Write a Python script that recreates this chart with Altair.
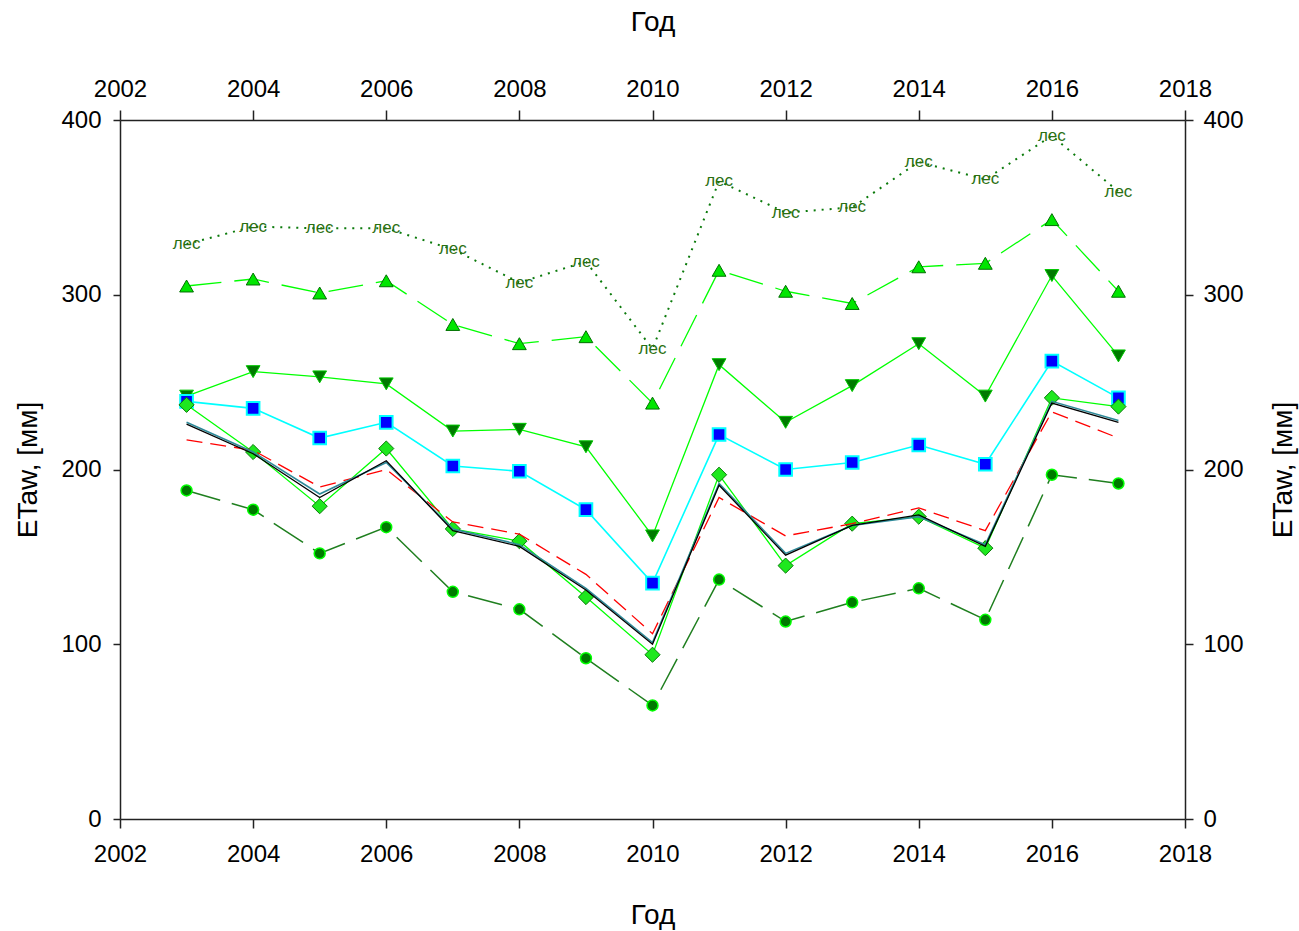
import altair as alt
import pandas as pd

# Years and seasonal ETaw values (mm) for each land-cover / method series
years = [2003, 2004, 2005, 2006, 2007, 2008, 2009, 2010, 2011, 2012, 2013, 2014, 2015, 2016, 2017]

forest = [329, 339, 338, 338, 326, 307, 319, 269, 365, 347, 350, 376, 366, 391, 359]
tri_up = [305, 309, 301, 308, 283, 272, 276, 238, 314, 302, 295, 316, 318, 343, 302]
tri_down = [242, 256, 253, 249, 222, 223, 213, 162, 260, 227, 248, 272, 242, 311, 265]
squares = [239, 235, 218, 227, 202, 199, 177, 135, 220, 200, 204, 214, 203, 262, 241]
diamonds = [237, 210, 179, 212, 166, 159, 127, 94, 197, 145, 169, 173, 155, 241, 236]
red_dash = [217, 211, 190, 200, 170, 163, 140, 106, 184, 162, 169, 178, 165, 233, 218]
teal_line = [227, 210, 186, 204, 166, 157, 132, 101, 192, 152, 168, 173, 157, 239, 228]
black_line = [226, 209, 184, 205, 165, 156, 131, 100, 191, 151, 168, 174, 156, 238, 227]
circles = [188, 177, 152, 167, 130, 120, 92, 65, 137, 113, 124, 132, 114, 197, 192]

forest_label = "лес"
x_title = "Год"
y_title = "ETaw, [мм]"

x_ticks = [2002, 2004, 2006, 2008, 2010, 2012, 2014, 2016, 2018]
y_ticks = [0, 100, 200, 300, 400]

W, H = 1065, 699
FONT = "Liberation Sans Narrow, Arial Narrow, Liberation Sans, Arial"

df = pd.DataFrame({
    "year": years,
    "forest": forest,
    "tri_up": tri_up,
    "tri_down": tri_down,
    "squares": squares,
    "diamonds": diamonds,
    "red_dash": red_dash,
    "teal_line": teal_line,
    "black_line": black_line,
    "circles": circles,
    "label": [forest_label] * len(years),
})

x_scale = alt.Scale(domain=[2002, 2018], nice=False, zero=False)
y_scale = alt.Scale(domain=[0, 400], nice=False, zero=True)

axis_common = dict(
    format="d",
    grid=False,
    labelFont=FONT,
    labelFontSize=24,
    labelColor="black",
    titleFont=FONT,
    titleFontSize=28,
    titleFontWeight="normal",
    titleColor="black",
    domainColor="#222222",
    domainWidth=1.5,
    tickColor="#222222",
    tickWidth=1.5,
    labelFlush=False,
    labelOverlap=False,
    titleAlign="center",
    titleBaseline="middle",
)

x_bottom = alt.Axis(orient="bottom", values=x_ticks, title=x_title, tickSize=9,
                    labelPadding=14, titleX=W / 2, titleY=96, **axis_common)
y_left = alt.Axis(orient="left", values=y_ticks, title=y_title, tickSize=7,
                  labelPadding=12, titleAngle=270, titleX=-92, titleY=H / 2, **axis_common)
x_top = alt.Axis(orient="top", values=x_ticks, title=x_title, tickSize=10,
                 labelPadding=9, titleX=W / 2, titleY=-98, **axis_common)
y_right = alt.Axis(orient="right", values=y_ticks, title=y_title, tickSize=8,
                   labelPadding=10, titleAngle=270, titleX=98, titleY=H / 2, **axis_common)

base = alt.Chart(df)


def xy(field):
    return dict(
        x=alt.X("year:Q", scale=x_scale, axis=None),
        y=alt.Y(f"{field}:Q", scale=y_scale, axis=None),
    )


def line(field, color, width=1.3, dash=None):
    kw = dict(color=color, strokeWidth=width, clip=False)
    if dash is not None:
        kw["strokeDash"] = dash
    return base.mark_line(**kw).encode(**xy(field))


def points(field, shape, fill, stroke, size, sw=1.0):
    return base.mark_point(shape=shape, fill=fill, stroke=stroke, fillOpacity=1,
                           strokeOpacity=1, size=size, strokeWidth=sw,
                           opacity=1).encode(**xy(field))


# Invisible layers that carry the four axes (bottom/left and mirrored top/right)
axes_bl = base.mark_line(opacity=0).encode(
    x=alt.X("year:Q", scale=x_scale, axis=x_bottom),
    y=alt.Y("black_line:Q", scale=y_scale, axis=y_left),
)
axes_tr = base.mark_line(opacity=0).encode(
    x=alt.X("year:Q", scale=x_scale, axis=x_top),
    y=alt.Y("black_line:Q", scale=y_scale, axis=y_right),
)

forest_text = base.mark_text(font="Liberation Sans, Arial", fontSize=17, color="#2B7012",
                             align="center", baseline="middle").encode(
    text="label:N", **xy("forest"))

layers = [
    axes_bl, axes_tr,
    line("forest", "#0B7A0B", width=2, dash=[2, 6]),
    forest_text,
    line("tri_up", "#00FF00", dash=[35, 13]),
    points("tri_up", "triangle-up", "#00E600", "#007000", 190),
    line("tri_down", "#00FF00"),
    points("tri_down", "triangle-down", "#007A00", "#00C800", 190),
    line("squares", "#00FFFF", width=1.6),
    points("squares", "square", "#0000FF", "#00FFFF", 160, sw=2),
    line("circles", "#1F7F1F", width=1.5, dash=[35, 12]),
    points("circles", "circle", "#007A00", "#00FF00", 120, sw=1.5),
    line("diamonds", "#00FF00"),
    points("diamonds", "diamond", "#1EE81E", "#0A7A0A", 230),
    line("red_dash", "#FF0000", width=1.3, dash=[16, 8]),
    line("teal_line", "#2E8A99", width=1.6),
    line("black_line", "#000000", width=1.3),
]

chart = (
    alt.layer(*layers)
    .resolve_axis(x="independent", y="independent")
    .properties(
        width=W,
        height=H,
        autosize=alt.AutoSizeParams(type="none"),
        padding={"left": 120, "top": 120, "right": 114, "bottom": 112},
        background="white",
    )
    .configure_view(stroke=None)
)

chart.save("out.html", embed_options={"renderer": "svg", "actions": False})
